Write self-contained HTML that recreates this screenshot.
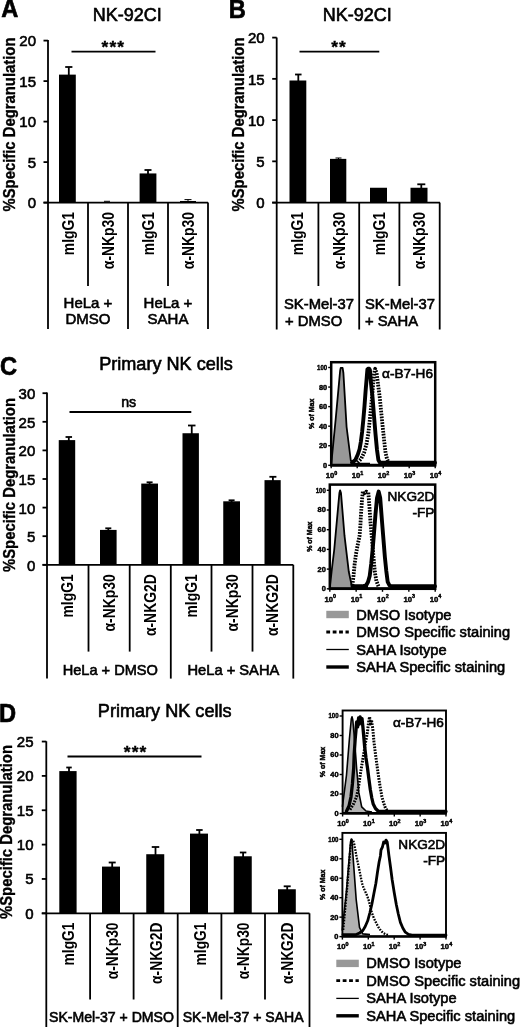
<!DOCTYPE html>
<html><head><meta charset="utf-8"><title>Figure</title>
<style>
html,body{margin:0;padding:0;background:#fff;}
svg{display:block;}
text{font-family:"Liberation Sans", Arial, Helvetica, sans-serif;} .r{stroke:#000;stroke-width:0.6px;} .b{stroke:#000;stroke-width:0.35px;} .t{stroke:#000;stroke-width:0.45px;}
</style></head><body>
<svg width="520" height="1027" viewBox="0 0 520 1027">
<rect x="0" y="0" width="520" height="1027" fill="#fff"/>
<text transform="translate(1.2 17.3) scale(0.91 1)" font-size="26" font-weight="bold" stroke="#000" stroke-width="0.7" stroke-linejoin="round">A</text>
<text x="127.3" y="21.3" class="r" font-size="18" text-anchor="middle" fill="#000" stroke-width="0.45">NK-92CI</text>
<line x1="48" y1="40" x2="48" y2="329" stroke="#000" stroke-width="1.8" />
<line x1="43.5" y1="202.6" x2="48" y2="202.6" stroke="#000" stroke-width="1.8" />
<text x="36" y="208.4" class="r" font-size="15" text-anchor="end" fill="#000" >0</text>
<line x1="43.5" y1="162.1" x2="48" y2="162.1" stroke="#000" stroke-width="1.8" />
<text x="36" y="167.9" class="r" font-size="15" text-anchor="end" fill="#000" >5</text>
<line x1="43.5" y1="121.6" x2="48" y2="121.6" stroke="#000" stroke-width="1.8" />
<text x="36" y="127.39999999999999" class="r" font-size="15" text-anchor="end" fill="#000" >10</text>
<line x1="43.5" y1="81.1" x2="48" y2="81.1" stroke="#000" stroke-width="1.8" />
<text x="36" y="86.89999999999999" class="r" font-size="15" text-anchor="end" fill="#000" >15</text>
<line x1="43.5" y1="40.599999999999994" x2="48" y2="40.599999999999994" stroke="#000" stroke-width="1.8" />
<text x="36" y="46.39999999999999" class="r" font-size="15" text-anchor="end" fill="#000" >20</text>
<line x1="43.5" y1="202.6" x2="208" y2="202.6" stroke="#000" stroke-width="1.8" />
<text class="b" transform="translate(14.6 211.5) rotate(-90) scale(0.89 1)" font-size="16.69" font-weight="bold" text-anchor="start" fill="#000" >%Specific Degranulation</text>
<rect x="59" y="74.61999999999999" width="16.799999999999997" height="127.98" fill="#000"/>
<line x1="68.8" y1="67" x2="68.8" y2="75" stroke="#000" stroke-width="1.8" />
<line x1="65.2" y1="67" x2="72.39999999999999" y2="67" stroke="#000" stroke-width="1.8" />
<rect x="139.6" y="173.44" width="16.80000000000001" height="29.159999999999997" fill="#000"/>
<line x1="148" y1="170" x2="148" y2="174" stroke="#000" stroke-width="1.8" />
<line x1="144.5" y1="170" x2="151.5" y2="170" stroke="#000" stroke-width="1.8" />
<rect x="180" y="200.98" width="16" height="1.6200000000000045" fill="#000"/>
<line x1="188" y1="199.6" x2="188" y2="201" stroke="#000" stroke-width="1" />
<line x1="184.5" y1="199.6" x2="191.5" y2="199.6" stroke="#000" stroke-width="1" />
<line x1="104" y1="201.3" x2="110" y2="201.3" stroke="#000" stroke-width="1" />
<line x1="88" y1="202.6" x2="88" y2="286" stroke="#000" stroke-width="1.8" />
<line x1="168" y1="202.6" x2="168" y2="286" stroke="#000" stroke-width="1.8" />
<line x1="128" y1="202.6" x2="128" y2="329" stroke="#000" stroke-width="1.8" />
<line x1="208" y1="202.6" x2="208" y2="329" stroke="#000" stroke-width="1.8" />
<line x1="71.5" y1="51.7" x2="155.5" y2="51.7" stroke="#000" stroke-width="1.8" />
<text class="b" transform="translate(113.4 53.4) scale(1 1)" font-size="17.4" font-weight="bold" text-anchor="middle" fill="#000" letter-spacing="1.1">***</text>
<text class="n" transform="translate(73.8 212) rotate(-90) scale(0.85 1)" font-size="16.35" font-weight="bold" text-anchor="end" fill="#000" >mIgG1</text>
<text class="n" transform="translate(113.8 212) rotate(-90) scale(0.85 1)" font-size="16.35" font-weight="bold" text-anchor="end" fill="#000" >α-NKp30</text>
<text class="n" transform="translate(153.8 212) rotate(-90) scale(0.85 1)" font-size="16.35" font-weight="bold" text-anchor="end" fill="#000" >mIgG1</text>
<text class="n" transform="translate(193.8 212) rotate(-90) scale(0.85 1)" font-size="16.35" font-weight="bold" text-anchor="end" fill="#000" >α-NKp30</text>
<text x="88" y="307.9" class="r" font-size="15" text-anchor="middle" fill="#000" >HeLa +</text>
<text x="88" y="323.9" class="r" font-size="15" text-anchor="middle" fill="#000" >DMSO</text>
<text x="168" y="307.9" class="r" font-size="15" text-anchor="middle" fill="#000" >HeLa +</text>
<text x="168" y="323.9" class="r" font-size="15" text-anchor="middle" fill="#000" >SAHA</text>
<text transform="translate(228.8 17.5) scale(0.91 1)" font-size="26" font-weight="bold" stroke="#000" stroke-width="0.7" stroke-linejoin="round">B</text>
<text x="357.3" y="20.8" class="r" font-size="18" text-anchor="middle" fill="#000" stroke-width="0.45">NK-92CI</text>
<line x1="276.7" y1="37.5" x2="276.7" y2="329.5" stroke="#000" stroke-width="1.8" />
<line x1="272.2" y1="202.6" x2="276.7" y2="202.6" stroke="#000" stroke-width="1.8" />
<text x="264.7" y="208.4" class="r" font-size="15" text-anchor="end" fill="#000" >0</text>
<line x1="272.2" y1="161.35" x2="276.7" y2="161.35" stroke="#000" stroke-width="1.8" />
<text x="264.7" y="167.15" class="r" font-size="15" text-anchor="end" fill="#000" >5</text>
<line x1="272.2" y1="120.1" x2="276.7" y2="120.1" stroke="#000" stroke-width="1.8" />
<text x="264.7" y="125.89999999999999" class="r" font-size="15" text-anchor="end" fill="#000" >10</text>
<line x1="272.2" y1="78.85" x2="276.7" y2="78.85" stroke="#000" stroke-width="1.8" />
<text x="264.7" y="84.64999999999999" class="r" font-size="15" text-anchor="end" fill="#000" >15</text>
<line x1="272.2" y1="37.599999999999994" x2="276.7" y2="37.599999999999994" stroke="#000" stroke-width="1.8" />
<text x="264.7" y="43.39999999999999" class="r" font-size="15" text-anchor="end" fill="#000" >20</text>
<line x1="272.2" y1="202.6" x2="440" y2="202.6" stroke="#000" stroke-width="1.8" />
<text class="b" transform="translate(243.8 211.5) rotate(-90) scale(0.89 1)" font-size="16.69" font-weight="bold" text-anchor="start" fill="#000" >%Specific Degranulation</text>
<rect x="289.5" y="80.49999999999999" width="16.80000000000001" height="122.10000000000001" fill="#000"/>
<line x1="298.3" y1="74.5" x2="298.3" y2="81" stroke="#000" stroke-width="1.8" />
<line x1="295.05" y1="74.5" x2="301.55" y2="74.5" stroke="#000" stroke-width="1.8" />
<rect x="330" y="158.875" width="16.30000000000001" height="43.724999999999994" fill="#000"/>
<line x1="338.5" y1="158" x2="338.5" y2="159" stroke="#000" stroke-width="1" />
<line x1="335.5" y1="158" x2="341.5" y2="158" stroke="#000" stroke-width="1" />
<rect x="370" y="187.75" width="17" height="14.849999999999994" fill="#000"/>
<rect x="410.5" y="187.75" width="17.0" height="14.849999999999994" fill="#000"/>
<line x1="421.3" y1="184.3" x2="421.3" y2="188" stroke="#000" stroke-width="1.8" />
<line x1="417.3" y1="184.3" x2="425.3" y2="184.3" stroke="#000" stroke-width="1.8" />
<line x1="318.4" y1="202.6" x2="318.4" y2="286" stroke="#000" stroke-width="1.8" />
<line x1="399.4" y1="202.6" x2="399.4" y2="286" stroke="#000" stroke-width="1.8" />
<line x1="359.2" y1="202.6" x2="359.2" y2="329.5" stroke="#000" stroke-width="1.8" />
<line x1="439.7" y1="202.6" x2="439.7" y2="329.5" stroke="#000" stroke-width="1.8" />
<line x1="299.5" y1="51.6" x2="379.3" y2="51.6" stroke="#000" stroke-width="1.8" />
<text class="b" transform="translate(339 52.6) scale(1 1)" font-size="17.4" font-weight="bold" text-anchor="middle" fill="#000" letter-spacing="1.1">**</text>
<text class="n" transform="translate(303.40000000000003 212) rotate(-90) scale(0.85 1)" font-size="16.35" font-weight="bold" text-anchor="end" fill="#000" >mIgG1</text>
<text class="n" transform="translate(344.6 212) rotate(-90) scale(0.85 1)" font-size="16.35" font-weight="bold" text-anchor="end" fill="#000" >α-NKp30</text>
<text class="n" transform="translate(385.1 212) rotate(-90) scale(0.85 1)" font-size="16.35" font-weight="bold" text-anchor="end" fill="#000" >mIgG1</text>
<text class="n" transform="translate(425.40000000000003 212) rotate(-90) scale(0.85 1)" font-size="16.35" font-weight="bold" text-anchor="end" fill="#000" >α-NKp30</text>
<text x="284" y="308.7" class="r" font-size="14.8" text-anchor="start" fill="#000" >SK-Mel-37</text>
<text x="285" y="326" class="r" font-size="14.8" text-anchor="start" fill="#000" >+ DMSO</text>
<text x="365" y="308.7" class="r" font-size="14.8" text-anchor="start" fill="#000" >SK-Mel-37</text>
<text x="365" y="326" class="r" font-size="14.8" text-anchor="start" fill="#000" >+ SAHA</text>
<text transform="translate(0 374.9) scale(0.91 1)" font-size="26" font-weight="bold" stroke="#000" stroke-width="0.7" stroke-linejoin="round">C</text>
<text x="166" y="370" class="r" font-size="18.1" text-anchor="middle" fill="#000" stroke-width="0.45">Primary NK cells</text>
<line x1="47" y1="392.5" x2="47" y2="678.6" stroke="#000" stroke-width="1.8" />
<line x1="42.5" y1="564.8" x2="47" y2="564.8" stroke="#000" stroke-width="1.8" />
<text x="35.3" y="570.6999999999999" class="r" font-size="15" text-anchor="end" fill="#000" >0</text>
<line x1="42.5" y1="536.1999999999999" x2="47" y2="536.1999999999999" stroke="#000" stroke-width="1.8" />
<text x="35.3" y="542.0999999999999" class="r" font-size="15" text-anchor="end" fill="#000" >5</text>
<line x1="42.5" y1="507.59999999999997" x2="47" y2="507.59999999999997" stroke="#000" stroke-width="1.8" />
<text x="35.3" y="513.5" class="r" font-size="15" text-anchor="end" fill="#000" >10</text>
<line x1="42.5" y1="478.99999999999994" x2="47" y2="478.99999999999994" stroke="#000" stroke-width="1.8" />
<text x="35.3" y="484.8999999999999" class="r" font-size="15" text-anchor="end" fill="#000" >15</text>
<line x1="42.5" y1="450.4" x2="47" y2="450.4" stroke="#000" stroke-width="1.8" />
<text x="35.3" y="456.29999999999995" class="r" font-size="15" text-anchor="end" fill="#000" >20</text>
<line x1="42.5" y1="421.79999999999995" x2="47" y2="421.79999999999995" stroke="#000" stroke-width="1.8" />
<text x="35.3" y="427.69999999999993" class="r" font-size="15" text-anchor="end" fill="#000" >25</text>
<line x1="42.5" y1="393.19999999999993" x2="47" y2="393.19999999999993" stroke="#000" stroke-width="1.8" />
<text x="35.3" y="399.0999999999999" class="r" font-size="15" text-anchor="end" fill="#000" >30</text>
<line x1="42.5" y1="564.8" x2="293.3" y2="564.8" stroke="#000" stroke-width="1.8" />
<text class="b" transform="translate(14.6 572) rotate(-90) scale(0.89 1)" font-size="16.69" font-weight="bold" text-anchor="start" fill="#000" >%Specific Degranulation</text>
<rect x="58.75" y="440.1039999999999" width="16.450000000000003" height="124.69600000000003" fill="#000"/>
<line x1="68.8" y1="437" x2="68.8" y2="441.1039999999999" stroke="#000" stroke-width="1.8" />
<line x1="65.55" y1="437" x2="72.05" y2="437" stroke="#000" stroke-width="1.8" />
<rect x="100" y="529.9079999999999" width="16.599999999999994" height="34.89200000000005" fill="#000"/>
<line x1="108.3" y1="528.3" x2="108.3" y2="530.9079999999999" stroke="#000" stroke-width="1.8" />
<line x1="105.3" y1="528.3" x2="111.3" y2="528.3" stroke="#000" stroke-width="1.8" />
<rect x="141.25" y="483.57599999999996" width="16.75" height="81.22399999999999" fill="#000"/>
<line x1="149.6" y1="482.3" x2="149.6" y2="484.57599999999996" stroke="#000" stroke-width="1.8" />
<line x1="146.6" y1="482.3" x2="152.6" y2="482.3" stroke="#000" stroke-width="1.8" />
<rect x="182.5" y="433.23999999999995" width="16.400000000000006" height="131.56" fill="#000"/>
<line x1="191.75" y1="425.5" x2="191.75" y2="434.23999999999995" stroke="#000" stroke-width="1.8" />
<line x1="188.0" y1="425.5" x2="195.5" y2="425.5" stroke="#000" stroke-width="1.8" />
<rect x="223.25" y="501.30799999999994" width="16.75" height="63.49200000000002" fill="#000"/>
<line x1="231.6" y1="500.3" x2="231.6" y2="502.30799999999994" stroke="#000" stroke-width="1.8" />
<line x1="228.6" y1="500.3" x2="234.6" y2="500.3" stroke="#000" stroke-width="1.8" />
<rect x="264.5" y="480.14399999999995" width="16.19999999999999" height="84.656" fill="#000"/>
<line x1="272.9" y1="476.8" x2="272.9" y2="481.14399999999995" stroke="#000" stroke-width="1.8" />
<line x1="269.4" y1="476.8" x2="276.4" y2="476.8" stroke="#000" stroke-width="1.8" />
<line x1="88.5" y1="564.8" x2="88.5" y2="651.6" stroke="#000" stroke-width="1.8" />
<line x1="129.7" y1="564.8" x2="129.7" y2="651.6" stroke="#000" stroke-width="1.8" />
<line x1="170.8" y1="564.8" x2="170.8" y2="678.6" stroke="#000" stroke-width="1.8" />
<line x1="211.5" y1="564.8" x2="211.5" y2="651.6" stroke="#000" stroke-width="1.8" />
<line x1="252.5" y1="564.8" x2="252.5" y2="651.6" stroke="#000" stroke-width="1.8" />
<line x1="293.3" y1="564.8" x2="293.3" y2="678.6" stroke="#000" stroke-width="1.8" />
<line x1="69.5" y1="412" x2="191.3" y2="412" stroke="#000" stroke-width="1.8" />
<text x="128.7" y="407" class="r" font-size="14.2" text-anchor="middle" fill="#000" >ns</text>
<text class="n" transform="translate(73.25 574.3) rotate(-90) scale(0.85 1)" font-size="16.35" font-weight="bold" text-anchor="end" fill="#000" >mIgG1</text>
<text class="n" transform="translate(114.6 574.3) rotate(-90) scale(0.85 1)" font-size="16.35" font-weight="bold" text-anchor="end" fill="#000" >α-NKp30</text>
<text class="n" transform="translate(155.75 574.3) rotate(-90) scale(0.85 1)" font-size="16.35" font-weight="bold" text-anchor="end" fill="#000" >α-NKG2D</text>
<text class="n" transform="translate(196.65 574.3) rotate(-90) scale(0.85 1)" font-size="16.35" font-weight="bold" text-anchor="end" fill="#000" >mIgG1</text>
<text class="n" transform="translate(237.5 574.3) rotate(-90) scale(0.85 1)" font-size="16.35" font-weight="bold" text-anchor="end" fill="#000" >α-NKp30</text>
<text class="n" transform="translate(278.4 574.3) rotate(-90) scale(0.85 1)" font-size="16.35" font-weight="bold" text-anchor="end" fill="#000" >α-NKG2D</text>
<text x="110.3" y="674.6" class="r" font-size="14.6" text-anchor="middle" fill="#000" >HeLa + DMSO</text>
<text x="233.4" y="674.6" class="r" font-size="14.7" text-anchor="middle" fill="#000" >HeLa + SAHA</text>
<text transform="translate(-1.1 722) scale(0.91 1)" font-size="26" font-weight="bold" stroke="#000" stroke-width="0.7" stroke-linejoin="round">D</text>
<text x="164.7" y="716.8" class="r" font-size="18.1" text-anchor="middle" fill="#000" stroke-width="0.45">Primary NK cells</text>
<line x1="46.3" y1="741.3" x2="46.3" y2="1027" stroke="#000" stroke-width="1.8" />
<line x1="41.8" y1="913.3" x2="46.3" y2="913.3" stroke="#000" stroke-width="1.8" />
<text x="33.5" y="918.5999999999999" class="r" font-size="15" text-anchor="end" fill="#000" >0</text>
<line x1="41.8" y1="878.9499999999999" x2="46.3" y2="878.9499999999999" stroke="#000" stroke-width="1.8" />
<text x="33.5" y="884.2499999999999" class="r" font-size="15" text-anchor="end" fill="#000" >5</text>
<line x1="41.8" y1="844.5999999999999" x2="46.3" y2="844.5999999999999" stroke="#000" stroke-width="1.8" />
<text x="33.5" y="849.8999999999999" class="r" font-size="15" text-anchor="end" fill="#000" >10</text>
<line x1="41.8" y1="810.25" x2="46.3" y2="810.25" stroke="#000" stroke-width="1.8" />
<text x="33.5" y="815.55" class="r" font-size="15" text-anchor="end" fill="#000" >15</text>
<line x1="41.8" y1="775.9" x2="46.3" y2="775.9" stroke="#000" stroke-width="1.8" />
<text x="33.5" y="781.1999999999999" class="r" font-size="15" text-anchor="end" fill="#000" >20</text>
<line x1="41.8" y1="741.55" x2="46.3" y2="741.55" stroke="#000" stroke-width="1.8" />
<text x="33.5" y="746.8499999999999" class="r" font-size="15" text-anchor="end" fill="#000" >25</text>
<line x1="41.8" y1="913.3" x2="309.5" y2="913.3" stroke="#000" stroke-width="1.8" />
<text class="b" transform="translate(11.5 919) rotate(-90) scale(0.89 1)" font-size="16.69" font-weight="bold" text-anchor="start" fill="#000" >%Specific Degranulation</text>
<rect x="59.3" y="771.0909999999999" width="17.299999999999997" height="142.20900000000006" fill="#000"/>
<line x1="69" y1="767.5" x2="69" y2="772.0909999999999" stroke="#000" stroke-width="1.8" />
<line x1="66.25" y1="767.5" x2="71.75" y2="767.5" stroke="#000" stroke-width="1.8" />
<rect x="102" y="866.584" width="18" height="46.71600000000001" fill="#000"/>
<line x1="112.2" y1="862.5" x2="112.2" y2="867.584" stroke="#000" stroke-width="1.8" />
<line x1="108.7" y1="862.5" x2="115.7" y2="862.5" stroke="#000" stroke-width="1.8" />
<rect x="146.25" y="854.218" width="18.0" height="59.081999999999994" fill="#000"/>
<line x1="155.5" y1="847" x2="155.5" y2="855.218" stroke="#000" stroke-width="1.8" />
<line x1="151.75" y1="847" x2="159.25" y2="847" stroke="#000" stroke-width="1.8" />
<rect x="190" y="833.608" width="18" height="79.69200000000001" fill="#000"/>
<line x1="199.4" y1="830" x2="199.4" y2="834.608" stroke="#000" stroke-width="1.8" />
<line x1="196.15" y1="830" x2="202.65" y2="830" stroke="#000" stroke-width="1.8" />
<rect x="233.75" y="856.279" width="18.0" height="57.02099999999996" fill="#000"/>
<line x1="243.1" y1="852.5" x2="243.1" y2="857.279" stroke="#000" stroke-width="1.8" />
<line x1="239.85" y1="852.5" x2="246.35" y2="852.5" stroke="#000" stroke-width="1.8" />
<rect x="278" y="889.255" width="17.80000000000001" height="24.04499999999996" fill="#000"/>
<line x1="287.2" y1="886.3" x2="287.2" y2="890.255" stroke="#000" stroke-width="1.8" />
<line x1="283.7" y1="886.3" x2="290.7" y2="886.3" stroke="#000" stroke-width="1.8" />
<line x1="90.1" y1="913.3" x2="90.1" y2="999.5" stroke="#000" stroke-width="1.8" />
<line x1="133.6" y1="913.3" x2="133.6" y2="999.5" stroke="#000" stroke-width="1.8" />
<line x1="177.7" y1="913.3" x2="177.7" y2="1027" stroke="#000" stroke-width="1.8" />
<line x1="221.4" y1="913.3" x2="221.4" y2="999.5" stroke="#000" stroke-width="1.8" />
<line x1="265" y1="913.3" x2="265" y2="999.5" stroke="#000" stroke-width="1.8" />
<line x1="309.5" y1="913.3" x2="309.5" y2="1027" stroke="#000" stroke-width="1.8" />
<line x1="67.5" y1="756.5" x2="201.5" y2="756.5" stroke="#000" stroke-width="1.8" />
<text class="b" transform="translate(135.6 757.8) scale(1 1)" font-size="17.4" font-weight="bold" text-anchor="middle" fill="#000" letter-spacing="1.1">***</text>
<text class="n" transform="translate(74.39999999999999 922.5) rotate(-90) scale(0.85 1)" font-size="16.24" font-weight="bold" text-anchor="end" fill="#000" >mIgG1</text>
<text class="n" transform="translate(118.05 922.5) rotate(-90) scale(0.85 1)" font-size="16.24" font-weight="bold" text-anchor="end" fill="#000" >α-NKp30</text>
<text class="n" transform="translate(161.84999999999997 922.5) rotate(-90) scale(0.85 1)" font-size="16.24" font-weight="bold" text-anchor="end" fill="#000" >α-NKG2D</text>
<text class="n" transform="translate(205.75 922.5) rotate(-90) scale(0.85 1)" font-size="16.24" font-weight="bold" text-anchor="end" fill="#000" >mIgG1</text>
<text class="n" transform="translate(249.39999999999998 922.5) rotate(-90) scale(0.85 1)" font-size="16.24" font-weight="bold" text-anchor="end" fill="#000" >α-NKp30</text>
<text class="n" transform="translate(293.45 922.5) rotate(-90) scale(0.85 1)" font-size="16.24" font-weight="bold" text-anchor="end" fill="#000" >α-NKG2D</text>
<text x="49" y="1022" class="r" font-size="14.1" text-anchor="start" fill="#000" stroke-width="0.55">SK-Mel-37 + DMSO</text>
<text x="182.7" y="1022" class="r" font-size="14.1" text-anchor="start" fill="#000" stroke-width="0.55">SK-Mel-37 + SAHA</text>
<line x1="328.2" y1="465.3" x2="331.2" y2="465.3" stroke="#000" stroke-width="1.4" />
<text class="t" transform="translate(327.2 467.7) scale(1 1)" font-size="7.4" font-weight="bold" text-anchor="end">0</text>
<line x1="328.2" y1="445.74" x2="331.2" y2="445.74" stroke="#000" stroke-width="1.4" />
<text class="t" transform="translate(327.2 448.1) scale(1 1)" font-size="7.4" font-weight="bold" text-anchor="end">20</text>
<line x1="328.2" y1="426.18" x2="331.2" y2="426.18" stroke="#000" stroke-width="1.4" />
<text class="t" transform="translate(327.2 428.6) scale(1 1)" font-size="7.4" font-weight="bold" text-anchor="end">40</text>
<line x1="328.2" y1="406.62" x2="331.2" y2="406.62" stroke="#000" stroke-width="1.4" />
<text class="t" transform="translate(327.2 409.0) scale(1 1)" font-size="7.4" font-weight="bold" text-anchor="end">60</text>
<line x1="328.2" y1="387.06" x2="331.2" y2="387.06" stroke="#000" stroke-width="1.4" />
<text class="t" transform="translate(327.2 389.5) scale(1 1)" font-size="7.4" font-weight="bold" text-anchor="end">80</text>
<line x1="328.2" y1="367.5" x2="331.2" y2="367.5" stroke="#000" stroke-width="1.4" />
<text class="t" transform="translate(327.2 369.9) scale(0.82 1)" font-size="7.4" font-weight="bold" text-anchor="end">100</text>
<line x1="331.2" y1="465.3" x2="331.2" y2="468.3" stroke="#000" stroke-width="1.4" />
<text class="t" x="325.8" y="478.1" font-size="7.7" font-weight="bold">10<tspan font-size="5.4" dy="-3.4">0</tspan></text>
<line x1="357.2" y1="465.3" x2="357.2" y2="468.3" stroke="#000" stroke-width="1.4" />
<text class="t" x="351.8" y="478.1" font-size="7.7" font-weight="bold">10<tspan font-size="5.4" dy="-3.4">1</tspan></text>
<line x1="383.2" y1="465.3" x2="383.2" y2="468.3" stroke="#000" stroke-width="1.4" />
<text class="t" x="377.8" y="478.1" font-size="7.7" font-weight="bold">10<tspan font-size="5.4" dy="-3.4">2</tspan></text>
<line x1="409.2" y1="465.3" x2="409.2" y2="468.3" stroke="#000" stroke-width="1.4" />
<text class="t" x="403.8" y="478.1" font-size="7.7" font-weight="bold">10<tspan font-size="5.4" dy="-3.4">3</tspan></text>
<line x1="435.2" y1="465.3" x2="435.2" y2="468.3" stroke="#000" stroke-width="1.4" />
<text class="t" x="429.8" y="478.1" font-size="7.7" font-weight="bold">10<tspan font-size="5.4" dy="-3.4">4</tspan></text>
<text class="t" transform="translate(313.7 413.8) rotate(-90)" font-size="7" font-weight="bold" text-anchor="middle">% of Max</text>
<polygon points="331.2,464.5 335.7,419 340.1,371 340.7,367.8 342.6,367.8 343.4,373 346.6,427 350.8,460 353,464" fill="#989898" stroke="none"/>
<polyline points="357.5,462.5 361,459 364,453 366.5,444 368.3,434 370.5,413 372.6,391 374,374 375.2,368.8 376.6,373 378,384 379.8,398 381.3,413 382.7,427 384.2,441 385.6,453 387,459 388.8,462.5" fill="none" stroke="#000" stroke-width="3.8" stroke-dasharray="1.7 1.2" stroke-linejoin="round"/>
<polyline points="331.2,464.5 335.7,419 340.1,371 340.7,367.8 342.6,367.8 343.4,373 346.6,427 350.8,460.5 354,463.6 370,463.6" fill="none" stroke="#000" stroke-width="1.8" stroke-linejoin="round"/>
<polyline points="352,462.8 355.3,460 357.8,454.5 359.6,449 360.9,441.5 362.1,432 363.3,420 364.5,406 365.6,391 366.7,378 367.4,369.4 368,368.8 369.2,368.8 369.9,370 371,383 372.6,398 374,416 375.5,434 377,450 378.4,460 380,462.8 435,462.8" fill="none" stroke="#000" stroke-width="3.9" stroke-linejoin="round" stroke-linecap="round"/>
<rect x="331.2" y="362.2" width="104.0" height="103.10000000000002" fill="none" stroke="#000" stroke-width="2.5"/>
<line x1="331.2" y1="465.15000000000003" x2="435.2" y2="465.15000000000003" stroke="#000" stroke-width="2.8" />
<text x="433" y="378.3" class="r" font-size="13.6" text-anchor="end" fill="#000" >α-B7-H6</text>
<line x1="326.8" y1="588.8" x2="329.8" y2="588.8" stroke="#000" stroke-width="1.4" />
<text class="t" transform="translate(325.8 591.2) scale(1 1)" font-size="7.4" font-weight="bold" text-anchor="end">0</text>
<line x1="326.8" y1="569.0999999999999" x2="329.8" y2="569.0999999999999" stroke="#000" stroke-width="1.4" />
<text class="t" transform="translate(325.8 571.5) scale(1 1)" font-size="7.4" font-weight="bold" text-anchor="end">20</text>
<line x1="326.8" y1="549.4" x2="329.8" y2="549.4" stroke="#000" stroke-width="1.4" />
<text class="t" transform="translate(325.8 551.8) scale(1 1)" font-size="7.4" font-weight="bold" text-anchor="end">40</text>
<line x1="326.8" y1="529.7" x2="329.8" y2="529.7" stroke="#000" stroke-width="1.4" />
<text class="t" transform="translate(325.8 532.1) scale(1 1)" font-size="7.4" font-weight="bold" text-anchor="end">60</text>
<line x1="326.8" y1="510.0" x2="329.8" y2="510.0" stroke="#000" stroke-width="1.4" />
<text class="t" transform="translate(325.8 512.4) scale(1 1)" font-size="7.4" font-weight="bold" text-anchor="end">80</text>
<line x1="326.8" y1="490.3" x2="329.8" y2="490.3" stroke="#000" stroke-width="1.4" />
<text class="t" transform="translate(325.8 492.7) scale(0.82 1)" font-size="7.4" font-weight="bold" text-anchor="end">100</text>
<line x1="329.8" y1="588.8" x2="329.8" y2="591.8" stroke="#000" stroke-width="1.4" />
<text class="t" x="324.4" y="601.6" font-size="7.7" font-weight="bold">10<tspan font-size="5.4" dy="-3.4">0</tspan></text>
<line x1="356.15" y1="588.8" x2="356.15" y2="591.8" stroke="#000" stroke-width="1.4" />
<text class="t" x="350.8" y="601.6" font-size="7.7" font-weight="bold">10<tspan font-size="5.4" dy="-3.4">1</tspan></text>
<line x1="382.5" y1="588.8" x2="382.5" y2="591.8" stroke="#000" stroke-width="1.4" />
<text class="t" x="377.1" y="601.6" font-size="7.7" font-weight="bold">10<tspan font-size="5.4" dy="-3.4">2</tspan></text>
<line x1="408.85" y1="588.8" x2="408.85" y2="591.8" stroke="#000" stroke-width="1.4" />
<text class="t" x="403.5" y="601.6" font-size="7.7" font-weight="bold">10<tspan font-size="5.4" dy="-3.4">3</tspan></text>
<line x1="435.2" y1="588.8" x2="435.2" y2="591.8" stroke="#000" stroke-width="1.4" />
<text class="t" x="429.8" y="601.6" font-size="7.7" font-weight="bold">10<tspan font-size="5.4" dy="-3.4">4</tspan></text>
<text class="t" transform="translate(311.8 536.7) rotate(-90)" font-size="7" font-weight="bold" text-anchor="middle">% of Max</text>
<polygon points="329.8,588 332,568 334.2,550 339.4,493 340.1,490.3 341,493 344.5,535.7 348.8,571.8 351.7,585.5 353,587.5" fill="#989898" stroke="none"/>
<polyline points="352.4,585.5 353.5,576 354.6,564.5 356,554 357.5,545.8 359.6,535.7 360.4,525 361,514 362,500 362.8,491.6 364.5,493 366,491.6 368.3,492.4 369.4,506 370.4,521.3 371.9,538.6 373.4,556 374.8,571.8 376.4,581 378.4,586.2" fill="none" stroke="#000" stroke-width="3.8" stroke-dasharray="1.7 1.2" stroke-linejoin="round"/>
<polyline points="329.8,588 332,568 334.2,550 339.4,493 340.1,490.3 341,493 344.5,535.7 348.8,571.8 351.7,585.5 354,587 368,587" fill="none" stroke="#000" stroke-width="1.8" stroke-linejoin="round"/>
<polyline points="352.5,586.3 362,586.3 366.1,585.5 368,582 369.7,576 371.2,564 372.6,550 374,533 375.5,514 377,498 378.7,491.6 380.2,498 382,521.3 383.5,540 384.9,557.3 386.3,571 387.7,581.9 389.5,585.5 391.5,586.3 435,586.3" fill="none" stroke="#000" stroke-width="3.9" stroke-linejoin="round" stroke-linecap="round"/>
<rect x="329.8" y="484.6" width="105.39999999999998" height="104.19999999999993" fill="none" stroke="#000" stroke-width="2.5"/>
<line x1="329.8" y1="588.65" x2="435.2" y2="588.65" stroke="#000" stroke-width="2.8" />
<text x="434.4" y="501.4" class="r" font-size="13.6" text-anchor="end" fill="#000" >NKG2D</text>
<text x="434.4" y="516.8" class="r" font-size="13.6" text-anchor="end" fill="#000" >-FP</text>
<rect x="326.3" y="610.8" width="22.5" height="7.4" fill="#989898"/>
<text x="356.3" y="619.5" class="r" font-size="14.65" text-anchor="start" fill="#000" >DMSO Isotype</text>
<line x1="326.3" y1="632" x2="348.8" y2="632" stroke="#000" stroke-width="2.9" stroke-dasharray="3.8 2.6"/>
<text x="356.3" y="637" class="r" font-size="14.65" text-anchor="start" fill="#000" >DMSO Specific staining</text>
<line x1="326.3" y1="649.5" x2="348.8" y2="649.5" stroke="#000" stroke-width="1.3" />
<text x="356.3" y="654.5" class="r" font-size="14.65" text-anchor="start" fill="#000" >SAHA Isotype</text>
<line x1="326.3" y1="667" x2="348.8" y2="667" stroke="#000" stroke-width="3.4" />
<text x="356.3" y="672" class="r" font-size="14.65" text-anchor="start" fill="#000" >SAHA Specific staining</text>
<line x1="339.6" y1="813.5" x2="342.6" y2="813.5" stroke="#000" stroke-width="1.4" />
<text class="t" transform="translate(338.6 815.9) scale(1 1)" font-size="7.4" font-weight="bold" text-anchor="end">0</text>
<line x1="339.6" y1="794.0" x2="342.6" y2="794.0" stroke="#000" stroke-width="1.4" />
<text class="t" transform="translate(338.6 796.4) scale(1 1)" font-size="7.4" font-weight="bold" text-anchor="end">20</text>
<line x1="339.6" y1="774.5" x2="342.6" y2="774.5" stroke="#000" stroke-width="1.4" />
<text class="t" transform="translate(338.6 776.9) scale(1 1)" font-size="7.4" font-weight="bold" text-anchor="end">40</text>
<line x1="339.6" y1="755.0" x2="342.6" y2="755.0" stroke="#000" stroke-width="1.4" />
<text class="t" transform="translate(338.6 757.4) scale(1 1)" font-size="7.4" font-weight="bold" text-anchor="end">60</text>
<line x1="339.6" y1="735.5" x2="342.6" y2="735.5" stroke="#000" stroke-width="1.4" />
<text class="t" transform="translate(338.6 737.9) scale(1 1)" font-size="7.4" font-weight="bold" text-anchor="end">80</text>
<line x1="339.6" y1="716.0" x2="342.6" y2="716.0" stroke="#000" stroke-width="1.4" />
<text class="t" transform="translate(338.6 718.4) scale(0.82 1)" font-size="7.4" font-weight="bold" text-anchor="end">100</text>
<line x1="342.6" y1="813.5" x2="342.6" y2="816.5" stroke="#000" stroke-width="1.4" />
<text class="t" x="337.2" y="826.3" font-size="7.7" font-weight="bold">10<tspan font-size="5.4" dy="-3.4">0</tspan></text>
<line x1="368.45000000000005" y1="813.5" x2="368.45000000000005" y2="816.5" stroke="#000" stroke-width="1.4" />
<text class="t" x="363.1" y="826.3" font-size="7.7" font-weight="bold">10<tspan font-size="5.4" dy="-3.4">1</tspan></text>
<line x1="394.3" y1="813.5" x2="394.3" y2="816.5" stroke="#000" stroke-width="1.4" />
<text class="t" x="388.9" y="826.3" font-size="7.7" font-weight="bold">10<tspan font-size="5.4" dy="-3.4">2</tspan></text>
<line x1="420.15" y1="813.5" x2="420.15" y2="816.5" stroke="#000" stroke-width="1.4" />
<text class="t" x="414.8" y="826.3" font-size="7.7" font-weight="bold">10<tspan font-size="5.4" dy="-3.4">3</tspan></text>
<line x1="446.0" y1="813.5" x2="446.0" y2="816.5" stroke="#000" stroke-width="1.4" />
<text class="t" x="440.6" y="826.3" font-size="7.7" font-weight="bold">10<tspan font-size="5.4" dy="-3.4">4</tspan></text>
<text class="t" transform="translate(324.6 762.0) rotate(-90)" font-size="7" font-weight="bold" text-anchor="middle">% of Max</text>
<polygon points="342.4,812.5 342.4,806.9 346.5,775 349.4,739 351.3,719 352,716.7 352.8,720 354.5,739 356.6,768 358.8,792.4 361.7,806.9 366,811 368,812.5" fill="#b2b2b2" stroke="none"/>
<polyline points="350,809.7 353.5,804 356.6,796.8 358.5,787 360.2,775 362,764 363.8,753.5 365.6,742 367.5,731.8 368.6,722 369.6,716.9 370.6,724 371.5,720 372.8,729 374,742 375.4,753.5 376.8,764 378.3,775 380,786 381.9,796.8 383.7,803 385.5,808.3 388.4,812" fill="none" stroke="#000" stroke-width="3.0" stroke-dasharray="1.7 1.2" stroke-linejoin="round"/>
<polyline points="342.4,806.9 346.5,775 349.4,739 351.3,719 352,716.7 352.8,720 354.5,739 356.6,768 358.8,792.4 361.7,806.9 366,811 372,812" fill="none" stroke="#000" stroke-width="1.6" stroke-linejoin="round"/>
<polyline points="346.5,811.3 349,806 351,796.8 352.4,784 353.7,768 354.2,754 355.2,739 356,730 356.6,722 357.6,727 358.6,718 359.4,724 360.2,717.0 361.2,722 362,718.5 363,728 363.8,737 364.6,746.3 366,758 367.5,768 368.9,779 370.3,789.5 371.8,798 373.2,804 375.5,808.5 378.3,811.2 446,811.5" fill="none" stroke="#000" stroke-width="3.3" stroke-linejoin="round" stroke-linecap="round"/>
<rect x="342.6" y="710.5" width="103.39999999999998" height="103.0" fill="none" stroke="#000" stroke-width="1.9"/>
<line x1="342.6" y1="813.25" x2="446" y2="813.25" stroke="#000" stroke-width="2.4" />
<text x="443.8" y="727.0" class="r" font-size="13.6" text-anchor="end" fill="#000" >α-B7-H6</text>
<line x1="339.4" y1="936.6" x2="342.4" y2="936.6" stroke="#000" stroke-width="1.4" />
<text class="t" transform="translate(338.4 939.0) scale(1 1)" font-size="7.4" font-weight="bold" text-anchor="end">0</text>
<line x1="339.4" y1="917.14" x2="342.4" y2="917.14" stroke="#000" stroke-width="1.4" />
<text class="t" transform="translate(338.4 919.5) scale(1 1)" font-size="7.4" font-weight="bold" text-anchor="end">20</text>
<line x1="339.4" y1="897.68" x2="342.4" y2="897.68" stroke="#000" stroke-width="1.4" />
<text class="t" transform="translate(338.4 900.1) scale(1 1)" font-size="7.4" font-weight="bold" text-anchor="end">40</text>
<line x1="339.4" y1="878.22" x2="342.4" y2="878.22" stroke="#000" stroke-width="1.4" />
<text class="t" transform="translate(338.4 880.6) scale(1 1)" font-size="7.4" font-weight="bold" text-anchor="end">60</text>
<line x1="339.4" y1="858.76" x2="342.4" y2="858.76" stroke="#000" stroke-width="1.4" />
<text class="t" transform="translate(338.4 861.2) scale(1 1)" font-size="7.4" font-weight="bold" text-anchor="end">80</text>
<line x1="339.4" y1="839.3" x2="342.4" y2="839.3" stroke="#000" stroke-width="1.4" />
<text class="t" transform="translate(338.4 841.7) scale(0.82 1)" font-size="7.4" font-weight="bold" text-anchor="end">100</text>
<line x1="342.4" y1="936.6" x2="342.4" y2="939.6" stroke="#000" stroke-width="1.4" />
<text class="t" x="337.0" y="949.4" font-size="7.7" font-weight="bold">10<tspan font-size="5.4" dy="-3.4">0</tspan></text>
<line x1="368.29999999999995" y1="936.6" x2="368.29999999999995" y2="939.6" stroke="#000" stroke-width="1.4" />
<text class="t" x="362.9" y="949.4" font-size="7.7" font-weight="bold">10<tspan font-size="5.4" dy="-3.4">1</tspan></text>
<line x1="394.2" y1="936.6" x2="394.2" y2="939.6" stroke="#000" stroke-width="1.4" />
<text class="t" x="388.8" y="949.4" font-size="7.7" font-weight="bold">10<tspan font-size="5.4" dy="-3.4">2</tspan></text>
<line x1="420.1" y1="936.6" x2="420.1" y2="939.6" stroke="#000" stroke-width="1.4" />
<text class="t" x="414.7" y="949.4" font-size="7.7" font-weight="bold">10<tspan font-size="5.4" dy="-3.4">3</tspan></text>
<line x1="446.0" y1="936.6" x2="446.0" y2="939.6" stroke="#000" stroke-width="1.4" />
<text class="t" x="440.6" y="949.4" font-size="7.7" font-weight="bold">10<tspan font-size="5.4" dy="-3.4">4</tspan></text>
<text class="t" transform="translate(324.6 884.8) rotate(-90)" font-size="7" font-weight="bold" text-anchor="middle">% of Max</text>
<polygon points="342.2,935 342.2,930.6 346.4,891.4 350.5,842 351.3,839 352,842 353.8,866.9 356.2,899.6 359.5,927.3 362.8,933.9 364,935" fill="#b2b2b2" stroke="none"/>
<polyline points="343.2,930 346.8,891.4 350.6,846 351.8,839.8 353,839.8 354.2,844 355.4,850.5 357,859 358.7,866.9 360.4,875 362,883.2 363.6,888 365.2,891.4 366.8,895 368.5,899.6 370.2,906 371.8,912.6 373.8,918 375.9,922.4 378.3,927 380.8,930.6 383.2,933 385.7,934.3 388.7,935.2" fill="none" stroke="#000" stroke-width="2.3" stroke-dasharray="1.7 1.2" stroke-linejoin="round"/>
<polyline points="342.2,930.6 346.4,891.4 350.5,842 351.3,839 352,842 353.8,866.9 356.2,899.6 359.5,927.3 362.8,933.9 370,934.6" fill="none" stroke="#000" stroke-width="1.6" stroke-linejoin="round"/>
<polyline points="343,934.6 356.2,934.6 359.5,933 362.8,930.6 365.2,926.5 367.7,920.8 369.8,913 371.8,904.5 373.8,894 375.9,883.2 377.5,872 379.1,862 380.4,856 381,850 382.4,847.2 383.6,842 384.8,843 386,840.1 387.2,842 388,848 388.9,855.4 390.5,867 392.2,880 394.2,892.5 396.3,904.5 398.3,914 400.4,922.4 402.8,928 405.3,932.2 408.5,934.3 411.8,935.2 446,935.2" fill="none" stroke="#000" stroke-width="2.8" stroke-linejoin="round" stroke-linecap="round"/>
<rect x="342.4" y="832.9" width="103.60000000000002" height="103.70000000000005" fill="none" stroke="#000" stroke-width="1.9"/>
<line x1="342.4" y1="936.35" x2="446" y2="936.35" stroke="#000" stroke-width="2.4" />
<text x="445.2" y="849.2" class="r" font-size="13.6" text-anchor="end" fill="#000" >NKG2D</text>
<text x="445.2" y="864.6" class="r" font-size="13.6" text-anchor="end" fill="#000" >-FP</text>
<rect x="336.3" y="959.6999999999999" width="22.5" height="7.4" fill="#989898"/>
<text x="366.3" y="968.4" class="r" font-size="14.65" text-anchor="start" fill="#000" >DMSO Isotype</text>
<line x1="336.3" y1="980.6" x2="358.8" y2="980.6" stroke="#000" stroke-width="2.9" stroke-dasharray="3.8 2.6"/>
<text x="366.3" y="985.6" class="r" font-size="14.65" text-anchor="start" fill="#000" >DMSO Specific staining</text>
<line x1="336.3" y1="998.4" x2="358.8" y2="998.4" stroke="#000" stroke-width="1.3" />
<text x="366.3" y="1003.4" class="r" font-size="14.65" text-anchor="start" fill="#000" >SAHA Isotype</text>
<line x1="336.3" y1="1015.8" x2="358.8" y2="1015.8" stroke="#000" stroke-width="3.4" />
<text x="366.3" y="1020.8" class="r" font-size="14.65" text-anchor="start" fill="#000" >SAHA Specific staining</text>
</svg>
</body></html>
